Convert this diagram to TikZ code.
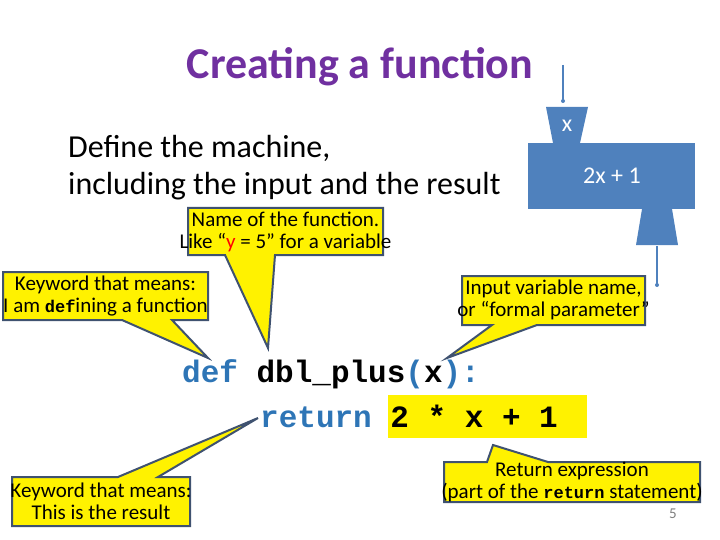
\documentclass[tikz,border=0pt]{standalone}
\usepackage{fontspec}
\setmainfont{Carlito}
\newfontfamily\codefont{Liberation Mono}
\definecolor{ttl}{HTML}{7030A0}
\definecolor{mach}{HTML}{4F81BD}
\definecolor{cb}{HTML}{2E75B6}
\definecolor{bord}{HTML}{3F5270}
\begin{document}
\begin{tikzpicture}[x=1pt,y=-1pt,
  call/.style={fill=yellow,draw=bord,line width=2pt,line join=miter},
  ctext/.style={align=center,font=\fontsize{21}{22}\selectfont,inner sep=0pt},
  code/.style={font=\codefont\bfseries\fontsize{31}{36}\selectfont,inner sep=0pt,anchor=base west}]
\useasboundingbox (0,0) rectangle (720,540);
\node (title) at (360,67) {\fontsize{44}{50}\selectfont\bfseries\color{ttl}Creating a function};
\node[anchor=west,align=left,font=\fontsize{32}{37}\selectfont,inner sep=0pt] (def) at (68,168) {Define the machine,\\including the input and the result};
% machine
\fill[mach] (546,107) -- (588,107) -- (580,143) -- (553,143) -- cycle;
\fill[mach] (528,143) rectangle (695,209);
\fill[mach] (642,209) -- (672,209) -- (678,245) -- (636,245) -- cycle;
\node[white,font=\fontsize{24}{26}\selectfont] (mx) at (567,126) {x};
\node[white,font=\fontsize{24}{26}\selectfont] (mf) at (612,176) {2x + 1};
\coordinate (in0) at (563,65); \coordinate (in1) at (563,101);
\coordinate (out0) at (657,246); \coordinate (out1) at (657,285);
\draw[mach,line width=1.3pt] (in0) -- (in1); \fill[mach] (in1) circle (2pt);
\draw[mach,line width=1.3pt] (out0) -- (out1); \fill[mach] (out1) circle (2pt);
% code
\fill[yellow] (388,395) rectangle (587,438);
\node[code] (l1) at (182,382) {\color{cb}def \color{black}dbl\_plus\color{cb}(\color{black}x\color{cb}):};
\node[code] (l2) at (260,427) {\color{cb}return \color{black}2 * x + 1};
% callouts
\draw[call] (188,208) -- (383,208) -- (383,255) -- (275,255) -- (268,348) -- (225,255) -- (188,255) -- cycle;
\node[ctext] (c1) at (285.5,232) {Name of the function.\\Like ``{\color{red}y} = 5'' for a variable};
\draw[call] (3,272) -- (208,272) -- (208,320) -- (172,320) -- (208,358) -- (122,320) -- (3,320) -- cycle;
\node[ctext] (c2) at (105.5,296) {Keyword that means:\\I am {\codefont\bfseries\fontsize{17}{22}\selectfont def}ining a function};
\draw[call] (462,276) -- (645,276) -- (645,325) -- (537,325) -- (447,358) -- (492,325) -- (462,325) -- cycle;
\node[ctext] (c3) at (553.5,300) {Input variable name,\\or ``formal parameter''};
\draw[call] (444,462) -- (487,462) -- (493,445) -- (548,462) -- (700,462) -- (700,502) -- (444,502) -- cycle;
\node[ctext] (c4) at (572,482) {Return expression\\(part of the {\codefont\bfseries\fontsize{17}{22}\selectfont return} statement)};
\draw[call] (12,477) -- (118,477) -- (258,418) -- (158,477) -- (190,477) -- (190,526) -- (12,526) -- cycle;
\node[ctext] (c5) at (101,501.5) {Keyword that means:\\This is the result};
\node[gray,font=\fontsize{15}{16}\selectfont] (pg) at (673,514) {5};
\end{tikzpicture}
\end{document}
